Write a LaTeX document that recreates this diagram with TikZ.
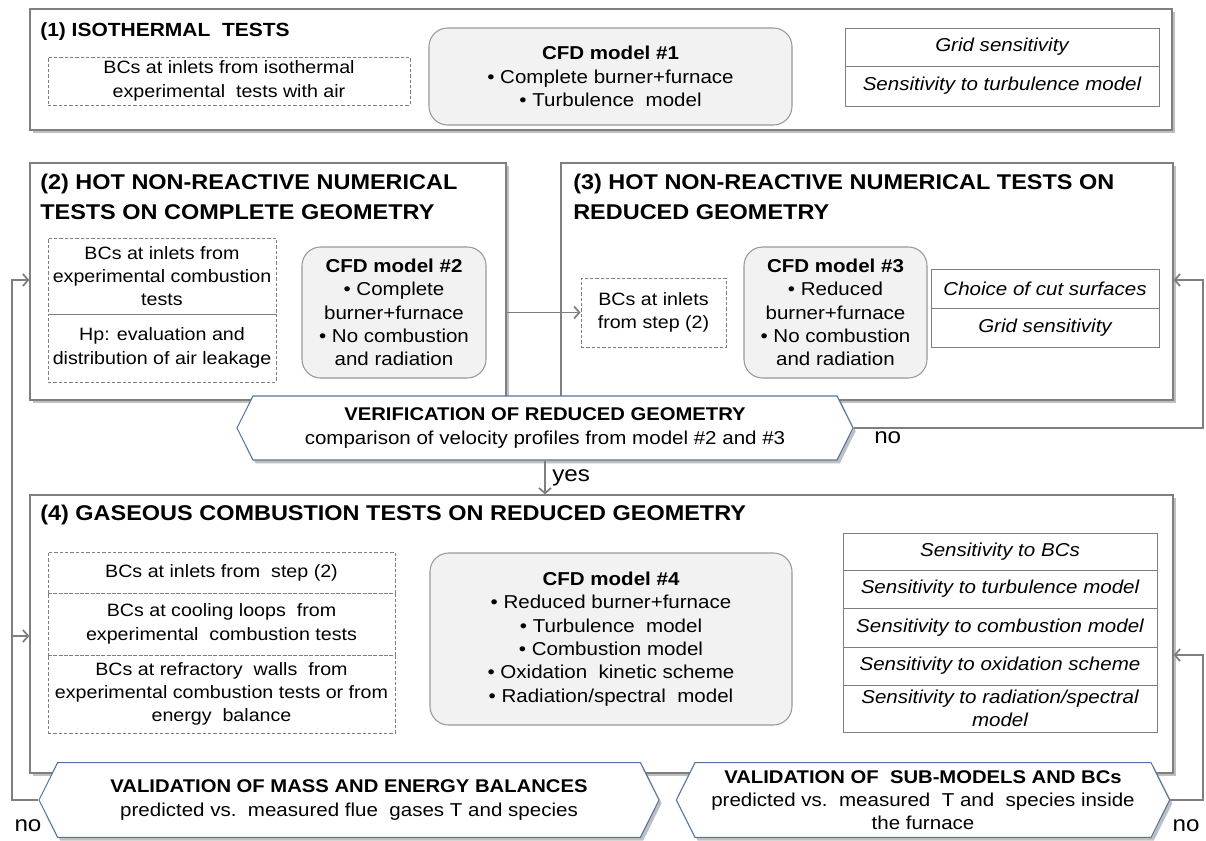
\documentclass[tikz,border=0pt]{standalone}
\usepackage{fontspec}
\setmainfont{Liberation Sans}[FakeStretch=1.1]
\usetikzlibrary{arrows.meta, positioning, shapes.symbols, shadows}
\definecolor{hexblue}{RGB}{84,117,160}
\definecolor{edgegray}{RGB}{127,127,127}
\definecolor{cfdfill}{RGB}{242,242,242}
\newcommand{\bodyfont}{\fontsize{14}{17.5}\selectfont}
\newcommand{\bcsfont}{\fontsize{13.4}{17.5}\selectfont}
\newcommand{\hexhead}{\fontsize{13.8}{17.5}\selectfont\bfseries}
\tikzset{corners/.style args={#1/#2/#3/#4}{minimum width={(#3-#1)*0.75pt}, minimum height={(#4-#2)*0.75pt}, at={({(#1+#3)/2},{(#2+#4)/2})}}}

\begin{document}
\begin{tikzpicture}[x=0.75pt, y=-0.75pt]
    \tikzstyle{stage}=[draw=edgegray, line width=0.9pt, fill=white, inner sep=0pt, drop shadow={shadow xshift=2pt, shadow yshift=-2.5pt, fill=black!50, opacity=0.5}]
    \tikzstyle{title}=[anchor=west, align=left, inner sep=0pt, font=\fontsize{16}{22.5}\selectfont\bfseries]
    \tikzstyle{bcs}=[draw=edgegray, dash pattern=on 2.5pt off 1.5pt, line width=0.6pt, inner sep=0pt, align=center, font=\bcsfont]
    \tikzstyle{cfd}=[draw=black!40, line width=0.8pt, fill=cfdfill, rounded corners=14pt, inner sep=0pt, align=center, font=\bodyfont]
    \tikzstyle{cell}=[draw=edgegray, line width=0.6pt, inner sep=0pt, align=center, font=\bodyfont\itshape]
    \tikzstyle{check}=[signal, signal to=west and east, signal pointer angle=127, draw=hexblue, line width=0.8pt, fill=white, inner sep=0pt, align=center, font=\bodyfont, drop shadow={shadow xshift=2pt, shadow yshift=-2.5pt, fill=black!50, opacity=0.5}]
    \tikzstyle{flow}=[draw=edgegray, line width=1.3pt, -{Straight Barb[length=4pt,width=9pt]}]
    \tikzstyle{lbl}=[inner sep=0pt, font=\fontsize{16.5}{18}\selectfont]

    \path[use as bounding box, fill=white] (0,0) rectangle (1206,840);

%   (1) isothermal
    \node[stage, corners=30/9/1172/130] (iso) {};
    \node[title, font=\fontsize{14.3}{17}\selectfont\bfseries] (t1) at (40,32) {(1) ISOTHERMAL\ \ TESTS};
    \node[bcs, corners=48/57/410/105] (bcs1) {BCs at inlets from isothermal\\experimental\ \ tests with air};
    \node[cfd, corners=429/28/792/125] (cfd1) {\textbf{CFD model \#1}\\\textbullet\ Complete burner+furnace\\\textbullet\ Turbulence\ \ model};
    \foreach \ya/\yb/\txt [count=\i] in {28/66/Grid sensitivity, 66/106/Sensitivity to turbulence model}
        \node[cell, corners=845/\ya/1159/\yb] (g1-\i) {\txt};

%   (2) hot, complete geometry
    \node[stage, corners=30/163/506/400] (hotc) {};
    \node[title] (t2) at (40,197) {(2) HOT NON-REACTIVE NUMERICAL\\TESTS ON COMPLETE GEOMETRY};
    \node[bcs, corners=48/238/276/314] (bcs2a) {BCs at inlets from\\experimental combustion\\tests};
    \node[bcs, corners=48/314/276/382] (bcs2b) {Hp: evaluation and\\distribution of air leakage};
    \node[cfd, corners=302/247/486/378] (cfd2) {\textbf{CFD model \#2}\\\textbullet\ Complete\\burner+furnace\\\textbullet\ No combustion\\and radiation};

%   (3) hot, reduced geometry
    \node[stage, corners=561/163/1173/400] (hotr) {};
    \node[title] (t3) at (573,197) {(3) HOT NON-REACTIVE NUMERICAL TESTS ON\\REDUCED GEOMETRY};
    \node[bcs, corners=581/278/726/347] (bcs3) {BCs at inlets\\from step (2)};
    \node[cfd, corners=744/247/927/378] (cfd3) {\textbf{CFD model \#3}\\\textbullet\ Reduced\\burner+furnace\\\textbullet\ No combustion\\and radiation};
    \foreach \ya/\yb/\txt [count=\i] in {269/308/Choice of cut surfaces, 308/347/Grid sensitivity}
        \node[cell, corners=931/\ya/1159/\yb] (g3-\i) {\txt};

%   (4) combustion
    \node[stage, corners=30/495/1173/773] (comb) {};
    \node[title] (t4) at (40,515) {(4) GASEOUS COMBUSTION TESTS ON REDUCED GEOMETRY};
    \node[bcs, corners=48/552/395/593] (bcs4a) {BCs at inlets from\ \ step (2)};
    \node[bcs, corners=48/593/395/655] (bcs4b) {BCs at cooling loops\ \ from\\experimental\ \ combustion tests};
    \node[bcs, corners=48/655/395/733] (bcs4c) {BCs at refractory\ \ walls\ \ from\\experimental combustion tests or from\\energy\ \ balance};
    \node[cfd, corners=430/553/792/725] (cfd4) {\textbf{CFD model \#4}\\\textbullet\ Reduced burner+furnace\\\textbullet\ Turbulence\ \ model\\\textbullet\ Combustion model\\\textbullet\ Oxidation\ \ kinetic scheme\\\textbullet\ Radiation/spectral\ \ model};
    \foreach \ya/\yb/\txt [count=\i] in {533/570/Sensitivity to BCs, 570/608/Sensitivity to turbulence model, 608/647/Sensitivity to combustion model, 647/685/Sensitivity to oxidation scheme, 685/732/{Sensitivity to radiation/spectral\\model}}
        \node[cell, corners=843/\ya/1157/\yb] (g4-\i) {\txt};

%   checks
    \node[check, minimum width=462pt, minimum height=48pt] (ver) at (545,428) {{\hexhead VERIFICATION OF REDUCED GEOMETRY}\\comparison of velocity profiles from model \#2 and \#3};
    \node[check, minimum width=465pt, minimum height=56pt] (valm) at (349,800) {{\hexhead VALIDATION OF MASS AND ENERGY BALANCES}\\predicted vs.\ \ measured flue\ \ gases T and species};
    \node[check, minimum width=370pt, minimum height=56pt] (vals) at (923,800) {{\hexhead VALIDATION OF\ \ SUB-MODELS AND BCs}\\predicted vs.\ \ measured\ \ T and\ \ species inside\\the furnace};

%   connectors
    \coordinate (rturn) at (1203,280);
    \coordinate (lturn) at (12,280);
    \coordinate (lin4) at (12,636);
    \coordinate (rin4) at (1203,655);
    \draw[flow] (hotc.east |- bcs3.west) -- (bcs3.west);
    \draw[flow] (ver.east) -| (rturn) -- (hotr.east |- rturn);
    \draw[flow] (ver.south) -- (ver.south |- comb.north);
    \draw[flow] (valm.west) -| (lturn) -- (hotc.west |- lturn);
    \draw[flow] (lin4) -- (comb.west |- lin4);
    \draw[flow] (vals.east) -| (rin4) -- (comb.east |- rin4);

    \node[lbl, anchor=west] (no3) at (874,438) {no};
    \node[lbl, anchor=west] (yes) at (552,478) {yes};
    \node[lbl] (no1) at (28,826) {no};
    \node[lbl] (no4) at (1186,826) {no};
\end{tikzpicture}
\end{document}
